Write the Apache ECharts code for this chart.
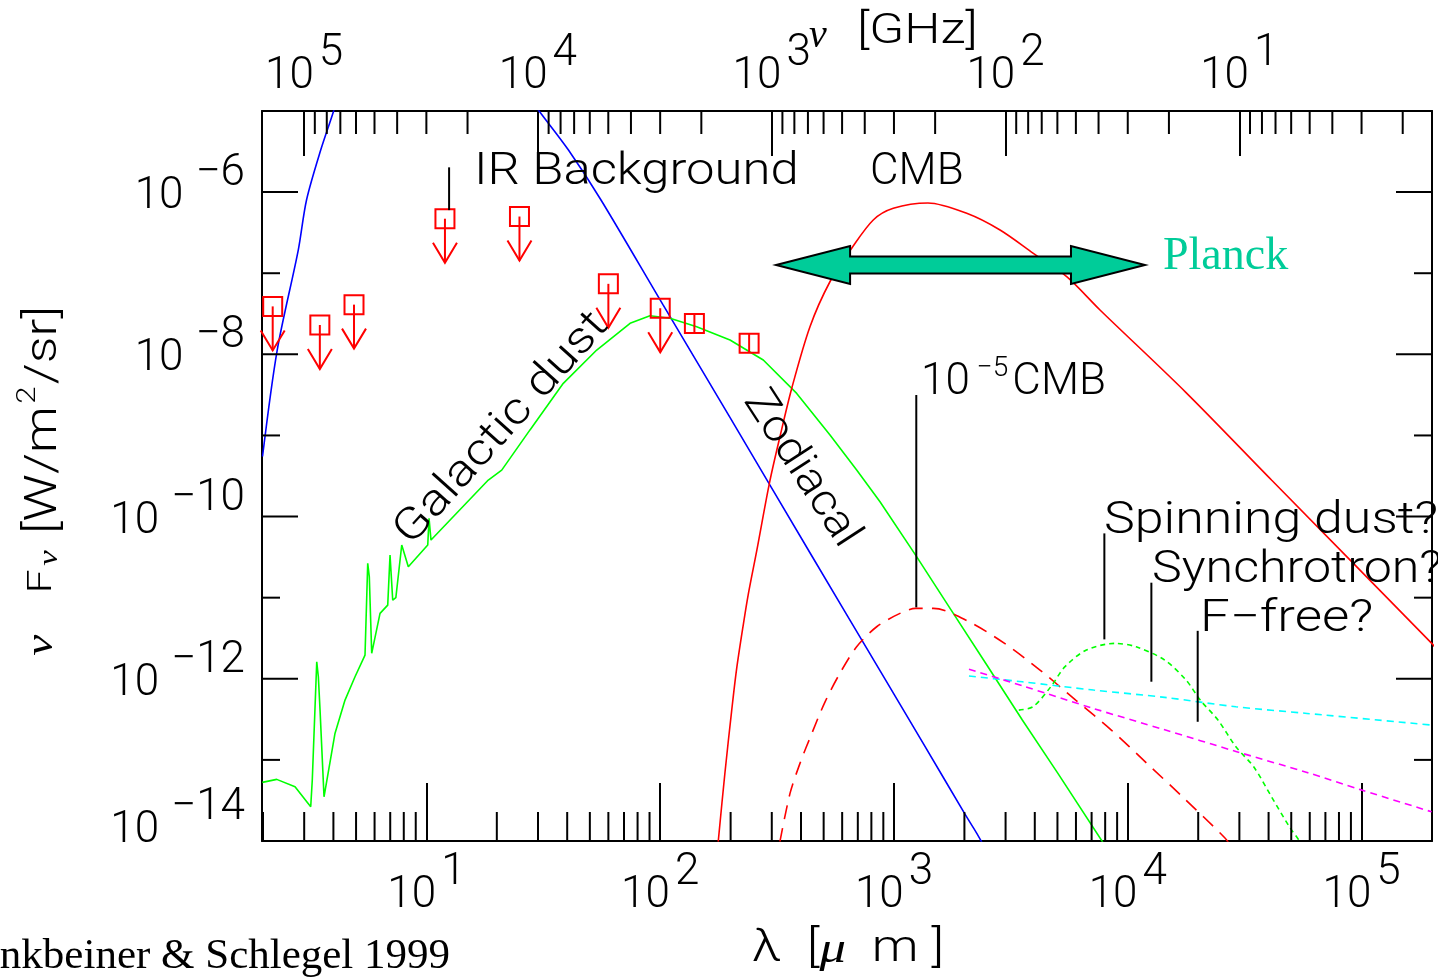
<!DOCTYPE html>
<html>
<head>
<meta charset="utf-8">
<title>Sky brightness from optical to radio</title>
<script src="https://cdn.jsdelivr.net/npm/echarts@6/dist/echarts.min.js"></script>
<style>
html,body{margin:0;padding:0;background:#fff;}
#chart{width:1438px;height:980px;}
</style>
</head>
<body>
<div id="chart"></div>
<script>
// ---- axis extents ---------------------------------------------------------
const lambdaRange = [1.98, 2.0e5];               // wavelength, micron
const fluxRange = [1e-14, 1e-5];                 // nu F_nu, W/m^2/sr
const C_MICRON_GHZ = 299792.458;                 // speed of light, micron * GHz
const freqRange = [C_MICRON_GHZ / lambdaRange[1], C_MICRON_GHZ / lambdaRange[0]];

// ---- spectra: [wavelength (micron), nu F_nu (W/m^2/sr)] --------------------
const starlight = [[1.99, 5.5e-10], [2.30, 1.13e-8], [2.83, 1.93e-7], [3.07, 8.0e-7],
  [3.53, 3.3e-6], [4.0, 9.8e-6], [4.3, 2.0e-5]];

const zodiacal = [[27, 1.6e-5], [30.5, 9.8e-6], [40.5, 3.3e-6], [55.8, 8.0e-7], [103, 4.04e-8],
  [199, 1.66e-9], [444, 3.31e-11], [871, 1.26e-12], [1327, 1.63e-13], [2020, 2.1e-14],
  [2365, 9.8e-15], [2500, 6e-15]];

const cmb = [[177, 9.8e-15], [189, 6.8e-14], [202, 4.0e-13], [212, 1.3e-12], [227, 4.8e-12],
  [238, 1.1e-11], [259, 3.86e-11], [293, 2.57e-10], [325, 9.6e-10], [365, 3.8e-9],
  [437, 2.19e-8], [532, 7.85e-8], [659, 2.03e-7], [815, 4.53e-7], [993, 6.31e-7],
  [1397, 7.35e-7], [2046, 5.48e-7], [2841, 3.41e-7], [3943, 1.76e-7], [5478, 9.06e-8],
  [7603, 3.52e-8], [17700, 3.4e-9], [41170, 2.82e-10], [199500, 2.73e-12], [210000, 2.3e-12]];

const cmbAnisotropy = [[325, 9.8e-15], [359, 3.86e-14], [396, 9.06e-14], [445, 2.12e-13],
  [507, 5.2e-13], [587, 1.17e-12], [692, 2.48e-12], [843, 4.38e-12], [1060, 6.4e-12],
  [1237, 7.37e-12], [1474, 7.37e-12], [2092, 5.05e-12], [2971, 2.73e-12], [4210, 1.28e-12],
  [5984, 5.46e-13], [8500, 2.33e-13], [12070, 9.06e-14], [17130, 3.51e-14],
  [26090, 1.08e-14], [28000, 8e-15]];

const galacticDust = [[1.986, 5.28e-14], [2.289, 5.75e-14], [2.741, 4.66e-14], [3.199, 2.64e-14],
  [3.249, 5.64e-14], [3.395, 1.62e-12], [3.449, 1.06e-12], [3.507, 4.11e-13], [3.647, 3.51e-14],
  [4.063, 2.12e-13], [4.485, 5.46e-13], [4.949, 1.06e-12], [5.461, 1.96e-12], [5.609, 2.65e-11],
  [5.697, 1.81e-11], [5.833, 2.06e-12], [6.331, 6.4e-12], [6.83, 8.1e-12], [6.987, 3.35e-11],
  [7.175, 9.33e-12], [7.40, 1.0e-11], [7.841, 4.46e-11], [8.365, 2.40e-11], [10.13, 4.46e-11],
  [10.26, 9.5e-11], [10.46, 5.13e-11], [18.39, 2.82e-10], [20.99, 3.74e-10], [27.73, 1.17e-9],
  [38.49, 4.39e-9], [53.5, 1.13e-8], [74.3, 2.41e-8], [90.4, 2.99e-8], [110.1, 2.78e-8],
  [143.2, 2.19e-8], [198.8, 1.50e-8], [275.9, 8.51e-9], [383.5, 3.30e-9], [532.3, 1.01e-9],
  [692.2, 3.74e-10], [871, 1.52e-10], [1237, 3.35e-11], [1756, 7.03e-12], [2494, 1.48e-12],
  [3538, 3.10e-13], [5023, 6.82e-14], [7789, 9.8e-15], [8200, 7e-15]];

const spinningDust = [[3417, 4.11e-13], [3930, 4.52e-13], [4683, 7.97e-13], [5385, 1.41e-12],
  [6650, 2.26e-12], [8805, 2.73e-12], [10860, 2.48e-12], [14380, 1.70e-12], [17740, 9.64e-13],
  [20410, 5.46e-13], [24300, 3.10e-13], [28990, 1.45e-13], [34540, 8.22e-14], [41170, 3.51e-14],
  [49070, 1.50e-14], [54450, 9.8e-15], [56000, 8e-15]];

const synchrotron = [[2092, 1.08e-12], [3538, 9.18e-13], [7135, 7.26e-13], [14380, 5.9e-13],
  [29000, 4.52e-13], [58400, 3.74e-13], [199200, 2.69e-13]];

const freeFree = [[2092, 1.31e-12], [3538, 8.2e-13], [7135, 4.3e-13], [14380, 2.35e-13],
  [29000, 1.27e-13], [58400, 7.0e-14], [98800, 4.3e-14], [199200, 2.29e-14]];

// Infrared background: upper limits and measurements
const irbUpperLimits = [[2.2, 3.9e-8], [3.5, 2.3e-8], [4.9, 4.1e-8], [12, 4.7e-7],
  [25, 5.0e-7], [60, 7.4e-8], [100, 3.7e-8]];
const irbDetections = [[140, 2.4e-8], [240, 1.37e-8]];

// Label leader lines: [wavelength, upper nu F_nu, lower nu F_nu]
const leaderLines = [[12.5, 2.02e-6, 6.0e-7], [1245, 3.15e-9, 7.6e-12], [7937, 6.2e-11, 3.06e-12],
  [12610, 1.53e-11, 9.2e-13], [19900, 3.9e-12, 2.95e-13]];

// Planck frequency coverage: [short wavelength, long wavelength, level]
const planckBand = [[313, 11840, 1.26e-7]];

// Decades of nu F_nu carrying tick marks on the frame
const fluxDecades = [-13, -12, -11, -10, -9, -8, -7, -6];
const minorMultipliers = [2, 3, 4, 5, 6, 7, 8, 9];

// ---- styling --------------------------------------------------------------
const SANS = 'Roboto, "Liberation Sans", sans-serif';
const SERIF = '"Liberation Serif", "Times New Roman", serif';
const INK = '#000';
const PLANCK_TEAL = '#00cc99';

function minorTicksWithin(range) {
  const out = [];
  for (let e = -1; e <= 6; e++) {
    for (const m of minorMultipliers) {
      const v = m * Math.pow(10, e);
      if (v > range[0] * 1.01 && v < range[1] * 0.99) out.push(v);
    }
  }
  return out;
}
const lambdaMinorTicks = minorTicksWithin(lambdaRange);
const freqMinorTicks = minorTicksWithin(freqRange);

// Rich-text pieces for "10" with a raised exponent
const digitStyle = { fontFamily: SANS, fontWeight: 300, fontSize: 44, color: INK };
const powerRich = {
  b: Object.assign({}, digitStyle, { lineHeight: 48, height: 48, verticalAlign: 'bottom' }),
  s: Object.assign({}, digitStyle, { lineHeight: 2, height: 2, verticalAlign: 'top', padding: [0, 0, 0, 5] }),
  n: Object.assign({}, digitStyle, { lineHeight: 2, height: 2, verticalAlign: 'top', padding: [0, 0, 0, 12] }),
  gap: { fontSize: 10, lineHeight: 30, height: 30 }
};
function decadeOf(v) { return Math.round(Math.log10(v)); }
function powerLabel(v) {
  const e = decadeOf(v);
  return e < 0 ? '{b|10}{n|\u2212' + (-e) + '}' : '{b|10}{s|' + e + '}';
}
function fluxLabel(v) {
  const e = decadeOf(v);
  if (e % 2 !== 0) return '';
  const t = powerLabel(v);
  return e === -14 ? t + '\n{gap| }' : t;
}

function lineSeries(name, data, color, dash, smooth) {
  return {
    name, type: 'line', data, symbol: 'none', showSymbol: false, smooth: smooth || false,
    clip: true, silent: true, z: 3,
    lineStyle: { color, width: 1.6, type: dash || 'solid' }
  };
}

const frameLine = { stroke: INK, lineWidth: 2 };

function textEl(text, x, y, deg, size, align, sx) {
  const a = align || 'left';
  return {
    type: 'text', x, y, rotation: (deg || 0) * Math.PI / 180, scaleX: sx || 1, z: 100,
    style: {
      text, fontFamily: SANS, fontWeight: 300, fontSize: size, fill: INK,
      align: a, verticalAlign: 'middle', textAlign: a, textVerticalAlign: 'middle'
    }
  };
}

const option = {
  animation: false,
  backgroundColor: '#fff',
  grid: { left: 262, top: 111, width: 1170, height: 730 },
  xAxis: [
    {
      type: 'log', logBase: 10, min: lambdaRange[0], max: lambdaRange[1], position: 'bottom',
      axisLine: { show: true, onZero: false, lineStyle: { color: INK, width: 2 } },
      axisTick: { show: true, inside: true, length: 58, lineStyle: { color: INK, width: 2 } },
      axisLabel: { margin: 31, showMinLabel: false, showMaxLabel: false, formatter: powerLabel, rich: powerRich },
      splitLine: { show: false }, minorTick: { show: false }, minorSplitLine: { show: false }
    },
    {
      type: 'log', logBase: 10, min: freqRange[0], max: freqRange[1], position: 'top', inverse: true,
      axisLine: { show: true, onZero: false, lineStyle: { color: INK, width: 2 } },
      axisTick: { show: true, inside: true, length: 45, lineStyle: { color: INK, width: 2 } },
      axisLabel: { margin: 10, showMinLabel: false, showMaxLabel: false, formatter: powerLabel, rich: powerRich },
      splitLine: { show: false }, minorTick: { show: false }, minorSplitLine: { show: false }
    }
  ],
  yAxis: [
    {
      type: 'log', logBase: 10, min: fluxRange[0], max: fluxRange[1], position: 'left',
      axisLine: { show: true, onZero: false, lineStyle: { color: INK, width: 2 } },
      axisTick: { show: false },
      axisLabel: { margin: 17, padding: [10, 0, 0, 0], formatter: fluxLabel, rich: powerRich },
      splitLine: { show: false }, minorTick: { show: false }
    },
    {
      type: 'log', logBase: 10, min: fluxRange[0], max: fluxRange[1], position: 'right',
      axisLine: { show: true, onZero: false, lineStyle: { color: INK, width: 2 } },
      axisTick: { show: false }, axisLabel: { show: false },
      splitLine: { show: false }, minorTick: { show: false }
    }
  ],
  series: [
    // minor wavelength ticks along the bottom edge
    {
      type: 'custom', xAxisIndex: 0, yAxisIndex: 0, silent: true, z: 4,
      data: lambdaMinorTicks.map(v => [v, fluxRange[0]]),
      renderItem(params, api) {
        const cs = params.coordSys;
        const x = api.coord([api.value(0), api.value(1)])[0];
        const yb = cs.y + cs.height;
        return { type: 'line', shape: { x1: x, y1: yb, x2: x, y2: yb - 29 }, style: frameLine };
      }
    },
    // minor frequency ticks along the top edge
    {
      type: 'custom', xAxisIndex: 1, yAxisIndex: 0, silent: true, z: 4,
      data: freqMinorTicks.map(v => [v, fluxRange[1]]),
      renderItem(params, api) {
        const cs = params.coordSys;
        const x = api.coord([api.value(0), api.value(1)])[0];
        return { type: 'line', shape: { x1: x, y1: cs.y, x2: x, y2: cs.y + 23 }, style: frameLine };
      }
    },
    // decade ticks on both vertical edges, longer on even decades
    {
      type: 'custom', xAxisIndex: 0, yAxisIndex: 0, silent: true, z: 4,
      data: fluxDecades.map(e => [lambdaRange[0], Math.pow(10, e), e % 2 === 0 ? 36 : 18]),
      renderItem(params, api) {
        const cs = params.coordSys;
        const y = api.coord([api.value(0), api.value(1)])[1];
        const len = api.value(2);
        const xr = cs.x + cs.width;
        return {
          type: 'group', children: [
            { type: 'line', shape: { x1: cs.x, y1: y, x2: cs.x + len, y2: y }, style: frameLine },
            { type: 'line', shape: { x1: xr, y1: y, x2: xr - len, y2: y }, style: frameLine }
          ]
        };
      }
    },
    lineSeries('Starlight', starlight, '#0000ff', 'solid', 0.3),
    lineSeries('Zodiacal', zodiacal, '#0000ff', 'solid', 0.3),
    lineSeries('Galactic dust', galacticDust, '#00ff00', 'solid', false),
    lineSeries('CMB', cmb, '#ff0000', 'solid', 0.3),
    lineSeries('10^-5 CMB', cmbAnisotropy, '#ff0000', [14, 9], 0.3),
    lineSeries('Spinning dust', spinningDust, '#00ff00', [5, 4], 0.3),
    lineSeries('Synchrotron', synchrotron, '#00ffff', [7, 5], 0.3),
    lineSeries('Free-free', freeFree, '#ff00ff', [7, 5], 0.3),
    // infrared background upper limits
    {
      type: 'custom', xAxisIndex: 0, yAxisIndex: 0, silent: true, z: 5,
      data: irbUpperLimits,
      renderItem(params, api) {
        const p = api.coord([api.value(0), api.value(1)]);
        const h = 9.5, red = { stroke: '#ff0000', lineWidth: 2, fill: 'none' };
        return {
          type: 'group', children: [
            { type: 'rect', shape: { x: p[0] - h, y: p[1] - h, width: 2 * h, height: 2 * h }, style: red },
            { type: 'line', shape: { x1: p[0], y1: p[1], x2: p[0], y2: p[1] + 44 }, style: red },
            { type: 'polyline', shape: { points: [[p[0] - 12, p[1] + 24], [p[0], p[1] + 44], [p[0] + 12, p[1] + 24]] }, style: red }
          ]
        };
      }
    },
    // infrared background measurements
    {
      type: 'custom', xAxisIndex: 0, yAxisIndex: 0, silent: true, z: 5,
      data: irbDetections,
      renderItem(params, api) {
        const p = api.coord([api.value(0), api.value(1)]);
        const h = 9.5, red = { stroke: '#ff0000', lineWidth: 2, fill: 'none' };
        return {
          type: 'group', children: [
            { type: 'rect', shape: { x: p[0] - h, y: p[1] - h, width: 2 * h, height: 2 * h }, style: red },
            { type: 'line', shape: { x1: p[0], y1: p[1] - h, x2: p[0], y2: p[1] + h }, style: red }
          ]
        };
      }
    },
    // leader lines for the component labels
    {
      type: 'custom', xAxisIndex: 0, yAxisIndex: 0, silent: true, z: 5,
      data: leaderLines,
      renderItem(params, api) {
        const a = api.coord([api.value(0), api.value(1)]);
        const b = api.coord([api.value(0), api.value(2)]);
        return { type: 'line', shape: { x1: a[0], y1: a[1], x2: b[0], y2: b[1] }, style: frameLine };
      }
    },
    // Planck coverage: double-headed arrow
    {
      type: 'custom', xAxisIndex: 0, yAxisIndex: 0, silent: true, z: 6,
      data: planckBand,
      renderItem(params, api) {
        const x1 = api.coord([api.value(0), api.value(2)])[0];
        const p2 = api.coord([api.value(1), api.value(2)]);
        const x2 = p2[0], y = p2[1];
        const head = 74, hh = 19, sh = 8.5;
        return {
          type: 'polygon',
          shape: {
            points: [[x1, y], [x1 + head, y - hh], [x1 + head, y - sh], [x2 - head, y - sh],
              [x2 - head, y - hh], [x2, y], [x2 - head, y + hh], [x2 - head, y + sh],
              [x1 + head, y + sh], [x1 + head, y + hh]]
          },
          style: { fill: PLANCK_TEAL, stroke: INK, lineWidth: 2, lineJoin: 'miter' }
        };
      }
    }
  ],
  graphic: [
    textEl('IR Background', 474, 173, 0, 44, 'left', 1.155),
    textEl('CMB', 870, 173, 0, 44, 'left', 1),
    {
      type: 'text', x: 921, y: 383, z: 100,
      style: {
        text: '{b|10}{e|\u22125}{b|CMB}', align: 'left', verticalAlign: 'middle',
        textAlign: 'left', textVerticalAlign: 'middle',
        rich: {
          b: { fontFamily: SANS, fontWeight: 300, fontSize: 44, lineHeight: 48, height: 48, verticalAlign: 'bottom', fill: INK },
          e: { fontFamily: SANS, fontWeight: 300, fontSize: 28, lineHeight: 20, height: 20, verticalAlign: 'top', fill: INK, padding: [0, 4, 0, 7] }
        }
      }
    },
    textEl('Spinning dust?', 1104, 522, 0, 44, 'left', 1.18),
    textEl('Synchrotron?', 1152, 571, 0, 44, 'left', 1.14),
    textEl('F\u2212free?', 1200, 620, 0, 44, 'left', 1.2),
    textEl('Galactic dust', 502, 429, 48, 44, 'center', 1.175),
    textEl('Zodiacal', 801, 469, -57, 44, 'center', 1.08),
    {
      type: 'text', x: 1163, y: 257, z: 100,
      style: { text: 'Planck', font: '46px ' + SERIF, fill: PLANCK_TEAL, align: 'left', verticalAlign: 'middle', textAlign: 'left', textVerticalAlign: 'middle' }
    },
    // top axis title
    {
      type: 'text', x: 818, y: 36, z: 100,
      style: { text: '\u03bd', font: 'italic 40px ' + SERIF, fill: INK, align: 'center', verticalAlign: 'middle', textAlign: 'center', textVerticalAlign: 'middle' }
    },
    textEl('[GHz]', 857, 32, 0, 42, 'left', 1.22),
    // bottom axis title
    {
      type: 'text', x: 752, y: 950, scaleX: 1.2, z: 100,
      style: {
        text: '{r|\u03bb  [}{i|\u03bc}{r|  m ]}', align: 'left', verticalAlign: 'middle', textAlign: 'left', textVerticalAlign: 'middle',
        rich: {
          r: { fontFamily: SANS, fontWeight: 300, fontSize: 44, fill: INK },
          i: { fontFamily: SERIF, fontStyle: 'italic', fontSize: 44, fill: INK }
        }
      }
    },
    // vertical axis title: unit part
    {
      type: 'text', x: 45, y: 420, rotation: Math.PI / 2, scaleX: 1.2, z: 100,
      style: {
        text: '{u|[W/m}{sup|2}{u|/sr]}',
        align: 'center', verticalAlign: 'middle', textAlign: 'center', textVerticalAlign: 'middle',
        rich: {
          u: { fontFamily: SANS, fontWeight: 300, fontSize: 44, fill: INK, lineHeight: 48, height: 48, verticalAlign: 'bottom' },
          sup: { fontFamily: SANS, fontWeight: 300, fontSize: 26, fill: INK, lineHeight: 14, height: 14, verticalAlign: 'top', padding: [0, 2, 0, 2] }
        }
      }
    },
    // vertical axis title: quantity part
    {
      type: 'text', x: 42, y: 603, rotation: Math.PI / 2, scaleX: 1.25, z: 100,
      style: {
        text: '{g|\u03bd}{f|    F}{sub|\u03bd}',
        align: 'center', verticalAlign: 'middle', textAlign: 'center', textVerticalAlign: 'middle',
        rich: {
          g: { fontFamily: SERIF, fontStyle: 'italic', fontSize: 38, fill: INK, lineHeight: 48, height: 48, verticalAlign: 'bottom' },
          f: { fontFamily: SANS, fontWeight: 300, fontSize: 34, fill: INK, lineHeight: 48, height: 48, verticalAlign: 'bottom' },
          sub: { fontFamily: SERIF, fontStyle: 'italic', fontSize: 28, fill: INK, lineHeight: 32, height: 32, verticalAlign: 'bottom', padding: [0, 0, 0, 3] }
        }
      }
    },
    // reference
    {
      type: 'text', x: -36, y: 957, z: 100,
      style: { text: 'Finkbeiner & Schlegel 1999', font: '43px ' + SERIF, fill: INK, align: 'left', verticalAlign: 'middle', textAlign: 'left', textVerticalAlign: 'middle' }
    }
  ]
};

const chart = echarts.init(document.getElementById('chart'), null, { renderer: 'canvas' });
chart.setOption(option);
</script>
</body>
</html>
